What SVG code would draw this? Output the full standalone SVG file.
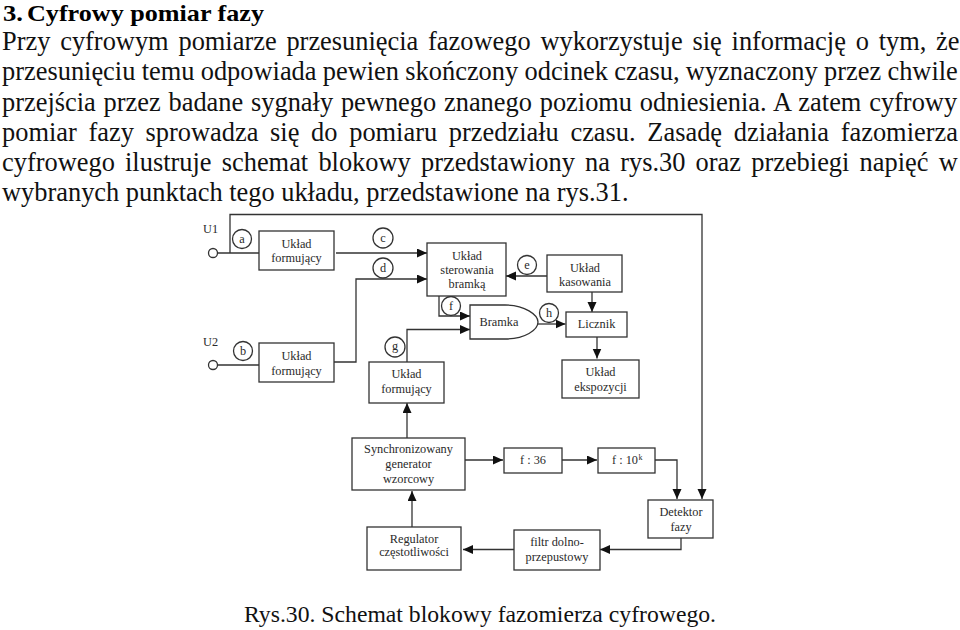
<svg xmlns="http://www.w3.org/2000/svg" width="960" height="630" viewBox="0 0 960 630">
<style>
text{font-family:"Liberation Serif","Times New Roman",serif;fill:#1a1a1a}
.b{font-size:26.4px;fill:#111}
.h{font-size:23px;font-weight:bold;fill:#000}
.c{font-size:23.7px;fill:#111}
.t{font-size:12.3px;text-anchor:middle;fill:#2a2a2a}
.l{font-size:12.3px;fill:#2a2a2a}
.n{fill:#fff;stroke:#333;stroke-width:1.3}
.w{fill:none;stroke:#333;stroke-width:1.3}
.a{marker-end:url(#arr)}
</style>
<defs>
<marker id="arr" markerUnits="userSpaceOnUse" markerWidth="11" markerHeight="10" refX="10" refY="4.5" orient="auto">
<path d="M0 0L10 4.5L0 9Z" fill="#111"/>
</marker>
</defs>
<g id="tekst">
<text class="h" x="3" y="20.500" textLength="20" lengthAdjust="spacingAndGlyphs">3.</text>
<text class="h" x="27" y="20.500" textLength="237" lengthAdjust="spacingAndGlyphs">Cyfrowy pomiar fazy</text>
<text class="b" x="2" y="49.500" word-spacing="3.2">Przy cyfrowym pomiarze przesunięcia fazowego wykorzystuje się informację o tym, że</text>
<text class="b" x="2" y="80" word-spacing="-0.3">przesunięciu temu odpowiada pewien skończony odcinek czasu, wyznaczony przez chwile</text>
<text class="b" x="2" y="110.500" word-spacing="1.2">przejścia przez badane sygnały pewnego znanego poziomu odniesienia. A zatem cyfrowy</text>
<text class="b" x="2" y="140.500" word-spacing="5.1">pomiar fazy sprowadza się do pomiaru przedziału czasu. Zasadę działania fazomierza</text>
<text class="b" x="2" y="171" word-spacing="3.6">cyfrowego ilustruje schemat blokowy przedstawiony na rys.30 oraz przebiegi napięć w</text>
<text class="b" x="2" y="201">wybranych punktach tego układu, przedstawione na rys.31.</text>
</g>
<g id="connectors">
<path class="w a" d="M230 253V214.5H702V499"/>
<path class="w" d="M217.5 253H259"/>
<path class="w" d="M217.5 365H259"/>
<path class="w a" d="M336 253H427"/>
<path class="w a" d="M334 362H356V279H427"/>
<path class="w a" d="M407 362V329.5H470"/>
<path class="w a" d="M407 438V403"/>
<path class="w a" d="M439 296V316H470"/>
<path class="w a" d="M547 276H506"/>
<path class="w a" d="M538 324H565.500"/>
<path class="w a" d="M592 292V312"/>
<path class="w a" d="M597 337V358.500"/>
<path class="w a" d="M465 460H503"/>
<path class="w a" d="M562 460H597"/>
<path class="w a" d="M655 460H677V499"/>
<path class="w a" d="M681 538V549.500H600"/>
<path class="w a" d="M514 549.500H463"/>
<path class="w a" d="M412 527V491"/>
</g>
<g id="we-u1"><circle class="n" cx="213" cy="253" r="4.500"/><text class="l" x="203" y="233">U1</text></g>
<g id="we-u2"><circle class="n" cx="213" cy="365" r="4.500"/><text class="l" x="203" y="346">U2</text></g>
<g id="pa"><circle class="n" cx="242" cy="239" r="9.500"/><text class="t" x="242" y="243">a</text></g>
<g id="pb"><circle class="n" cx="243" cy="351" r="9.500"/><text class="t" x="243" y="355">b</text></g>
<g id="pc"><circle class="n" cx="383" cy="238" r="10"/><text class="t" x="383" y="242">c</text></g>
<g id="pd"><circle class="n" cx="383" cy="268" r="10"/><text class="t" x="383" y="272">d</text></g>
<g id="pe"><circle class="n" cx="527" cy="265" r="9.500"/><text class="t" x="527" y="269">e</text></g>
<g id="pf"><circle class="n" cx="451" cy="306" r="9.500"/><text class="t" x="451" y="310">f</text></g>
<g id="pg"><circle class="n" cx="395" cy="347" r="10"/><text class="t" x="395" y="350">g</text></g>
<g id="ph"><circle class="n" cx="549" cy="313" r="9.500"/><text class="t" x="549" y="317">h</text></g>
<g id="uf1"><rect class="n" x="259" y="231" width="75" height="39"/><text class="t" x="296.500" y="248">Układ</text><text class="t" x="296.500" y="262">formujący</text></g>
<g id="uf2"><rect class="n" x="259" y="343" width="75" height="39"/><text class="t" x="296.500" y="360">Układ</text><text class="t" x="296.500" y="375">formujący</text></g>
<g id="uf3"><rect class="n" x="369" y="362" width="75" height="41"/><text class="t" x="406.500" y="378">Układ</text><text class="t" x="406.500" y="393">formujący</text></g>
<g id="sterowanie"><rect class="n" x="427" y="243" width="79" height="53"/><text class="t" x="467" y="260">Układ</text><text class="t" x="467" y="274">sterowania</text><text class="t" x="467" y="288">bramką</text></g>
<g id="kasowanie"><rect class="n" x="547" y="255" width="75" height="37"/><text class="t" x="585" y="272">Układ</text><text class="t" x="585" y="286">kasowania</text></g>
<g id="bramka"><path class="n" d="M470 305H505C525 305 538 315 538 322C538 330 525 339 505 339H470Z"/><text class="t" x="499" y="326">Bramka</text></g>
<g id="licznik"><rect class="n" x="566" y="312" width="61" height="25"/><text class="t" x="596.500" y="328">Licznik</text></g>
<g id="ekspozycja"><rect class="n" x="562" y="360" width="77" height="38"/><text class="t" x="600.500" y="376">Układ</text><text class="t" x="600.500" y="391">ekspozycji</text></g>
<g id="generator"><rect class="n" x="352" y="438" width="113" height="52"/><text class="t" x="408.500" y="453">Synchronizowany</text><text class="t" x="408.500" y="468">generator</text><text class="t" x="408.500" y="483">wzorcowy</text></g>
<g id="f36"><rect class="n" x="504" y="448" width="58" height="25"/><text class="t" x="533" y="464">f : 36</text></g>
<g id="f10k"><rect class="n" x="598" y="448" width="57" height="25"/><text class="l" x="612" y="464">f : 10<tspan font-size="8" dx="0.5" dy="-4">k</tspan></text></g>
<g id="detektor"><rect class="n" x="648" y="500" width="65" height="38"/><text class="t" x="681" y="516">Detektor</text><text class="t" x="681" y="531">fazy</text></g>
<g id="filtr"><rect class="n" x="514" y="530" width="86" height="40"/><text class="t" x="557" y="546">filtr dolno-</text><text class="t" x="557" y="561">przepustowy</text></g>
<g id="regulator"><rect class="n" x="367" y="527" width="94" height="43"/><text class="t" x="414" y="543">Regulator</text><text class="t" x="414" y="556">częstotliwości</text></g>
<text class="c" x="244" y="622">Rys.30. Schemat blokowy fazomierza cyfrowego.</text>
</svg>
